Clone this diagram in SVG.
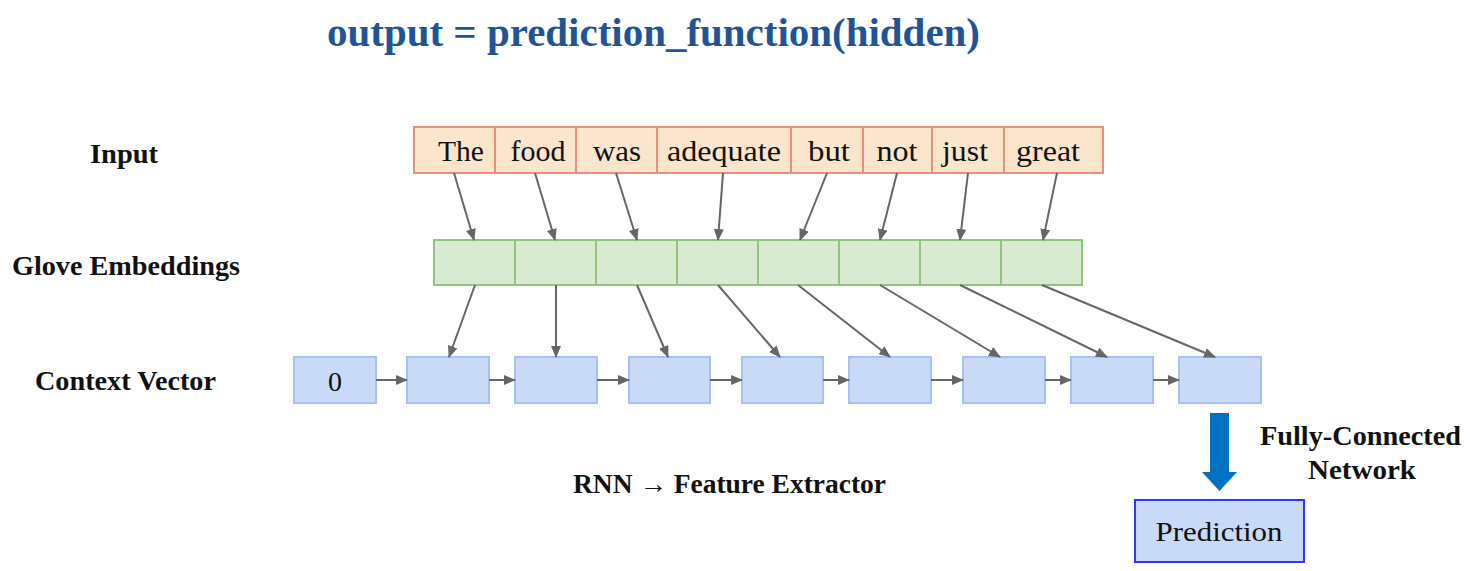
<svg xmlns="http://www.w3.org/2000/svg" width="1470" height="571" viewBox="0 0 1470 571">
<defs>
<marker id="ah" markerWidth="12" markerHeight="10" refX="11" refY="5" orient="auto" markerUnits="userSpaceOnUse">
<path d="M0,0 L12,5 L0,10 Z" fill="#666666"/>
</marker>
<style>
.lbl{font-family:"Liberation Serif","DejaVu Serif",serif;font-weight:bold;font-size:27px;fill:#111}
.wd{font-family:"Liberation Serif","DejaVu Serif",serif;font-size:30px;fill:#111;text-anchor:middle}
.inp{fill:#FCE5CD;stroke:#E6917E;stroke-width:2}
.emb{fill:#D9EAD3;stroke:#93C47D;stroke-width:2}
.ctx{fill:#C9DAF8;stroke:#A4C2F4;stroke-width:2}
.conn{stroke:#666666;stroke-width:2;fill:none;marker-end:url(#ah)}
</style>
</defs>
<rect width="1470" height="571" fill="#ffffff"/>
<text id="title" x="327" y="46" textLength="653" lengthAdjust="spacingAndGlyphs" style="font-family:'Liberation Serif','DejaVu Serif',serif;font-weight:bold;font-size:40px;fill:#1F5597">output = prediction_function(hidden)</text>
<g id="labels">
<text class="lbl" x="90" y="163" textLength="68" lengthAdjust="spacingAndGlyphs">Input</text>
<text class="lbl" x="12" y="275" textLength="228" lengthAdjust="spacingAndGlyphs">Glove Embeddings</text>
<text class="lbl" x="35" y="390" textLength="181" lengthAdjust="spacingAndGlyphs">Context Vector</text>
<text class="lbl" x="573" y="493" textLength="313" lengthAdjust="spacingAndGlyphs">RNN → Feature Extractor</text>
<text class="lbl" x="1260" y="445" textLength="201" lengthAdjust="spacingAndGlyphs">Fully-Connected</text>
<text class="lbl" x="1308" y="479" textLength="108" lengthAdjust="spacingAndGlyphs">Network</text>
</g>
<g id="input">
<g id="in-the"><rect class="inp" x="414" y="127" width="81" height="46"/><text class="wd" x="461" y="161" textLength="46" lengthAdjust="spacingAndGlyphs">The</text></g>
<g id="in-food"><rect class="inp" x="495" y="127" width="81" height="46"/><text class="wd" x="538" y="161" textLength="55" lengthAdjust="spacingAndGlyphs">food</text></g>
<g id="in-was"><rect class="inp" x="576" y="127" width="81" height="46"/><text class="wd" x="617" y="161" textLength="48" lengthAdjust="spacingAndGlyphs">was</text></g>
<g id="in-adequate"><rect class="inp" x="657" y="127" width="134" height="46"/><text class="wd" x="724" y="161" textLength="114" lengthAdjust="spacingAndGlyphs">adequate</text></g>
<g id="in-but"><rect class="inp" x="791" y="127" width="72" height="46"/><text class="wd" x="829" y="161" textLength="42" lengthAdjust="spacingAndGlyphs">but</text></g>
<g id="in-not"><rect class="inp" x="863" y="127" width="69" height="46"/><text class="wd" x="897" y="161" textLength="41" lengthAdjust="spacingAndGlyphs">not</text></g>
<g id="in-just"><rect class="inp" x="932" y="127" width="72" height="46"/><text class="wd" x="965" y="161" textLength="46" lengthAdjust="spacingAndGlyphs">just</text></g>
<g id="in-great"><rect class="inp" x="1004" y="127" width="99" height="46"/><text class="wd" x="1048" y="161" textLength="64" lengthAdjust="spacingAndGlyphs">great</text></g>
</g>
<g id="embeddings">
<rect id="emb1" class="emb" x="434" y="240" width="81" height="45"/>
<rect id="emb2" class="emb" x="515" y="240" width="81" height="45"/>
<rect id="emb3" class="emb" x="596" y="240" width="81" height="45"/>
<rect id="emb4" class="emb" x="677" y="240" width="81" height="45"/>
<rect id="emb5" class="emb" x="758" y="240" width="81" height="45"/>
<rect id="emb6" class="emb" x="839" y="240" width="81" height="45"/>
<rect id="emb7" class="emb" x="920" y="240" width="81" height="45"/>
<rect id="emb8" class="emb" x="1001" y="240" width="81" height="45"/>
</g>
<g id="context">
<g id="ctx0"><rect class="ctx" x="294" y="357" width="82" height="46"/><text class="wd" x="335" y="391" style="font-size:28px">0</text></g>
<rect id="ctx1" class="ctx" x="407" y="357" width="82" height="46"/>
<rect id="ctx2" class="ctx" x="515" y="357" width="82" height="46"/>
<rect id="ctx3" class="ctx" x="629" y="357" width="81" height="46"/>
<rect id="ctx4" class="ctx" x="742" y="357" width="81" height="46"/>
<rect id="ctx5" class="ctx" x="849" y="357" width="82" height="46"/>
<rect id="ctx6" class="ctx" x="963" y="357" width="82" height="46"/>
<rect id="ctx7" class="ctx" x="1071" y="357" width="82" height="46"/>
<rect id="ctx8" class="ctx" x="1179" y="357" width="82" height="46"/>
</g>
<g id="prediction">
<rect x="1135" y="500" width="169" height="62" fill="#C9DAF8" stroke="#3333FF" stroke-width="2"/>
<text class="wd" x="1219" y="541" textLength="127" lengthAdjust="spacingAndGlyphs" style="font-size:28px">Prediction</text>
</g>
<g id="connectors">
<line class="conn" x1="454" y1="173" x2="474" y2="240"/>
<line class="conn" x1="535" y1="173" x2="555" y2="240"/>
<line class="conn" x1="616" y1="173" x2="637" y2="240"/>
<line class="conn" x1="723" y1="173" x2="718" y2="240"/>
<line class="conn" x1="827" y1="173" x2="800" y2="240"/>
<line class="conn" x1="897" y1="173" x2="880" y2="240"/>
<line class="conn" x1="968" y1="173" x2="960" y2="240"/>
<line class="conn" x1="1057" y1="173" x2="1043" y2="240"/>
<line class="conn" x1="475" y1="285" x2="449" y2="357"/>
<line class="conn" x1="556" y1="285" x2="556" y2="357"/>
<line class="conn" x1="637" y1="285" x2="668" y2="357"/>
<line class="conn" x1="718" y1="285" x2="780" y2="357"/>
<line class="conn" x1="798" y1="285" x2="890" y2="357"/>
<line class="conn" x1="880" y1="285" x2="1000" y2="357"/>
<line class="conn" x1="960" y1="285" x2="1107" y2="357"/>
<line class="conn" x1="1042" y1="285" x2="1215" y2="357"/>
<line class="conn" x1="376" y1="380" x2="407" y2="380"/>
<line class="conn" x1="489" y1="380" x2="515" y2="380"/>
<line class="conn" x1="597" y1="380" x2="629" y2="380"/>
<line class="conn" x1="710" y1="380" x2="742" y2="380"/>
<line class="conn" x1="823" y1="380" x2="849" y2="380"/>
<line class="conn" x1="931" y1="380" x2="963" y2="380"/>
<line class="conn" x1="1045" y1="380" x2="1071" y2="380"/>
<line class="conn" x1="1153" y1="380" x2="1179" y2="380"/>
<path id="fc-arrow" d="M1210,413 L1229,413 L1229,472 L1237,472 L1219.5,491 L1202,472 L1210,472 Z" fill="#0070C0"/>
</g>
</svg>
